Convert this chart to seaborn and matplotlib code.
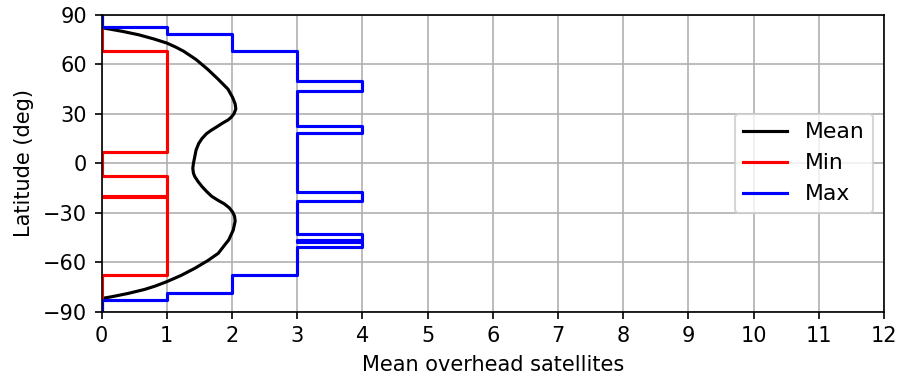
import matplotlib
matplotlib.use("Agg")
import matplotlib.pyplot as plt
import pandas as pd
import seaborn as sns

# Mean curve (latitude in deg, mean overhead satellites)
mean_lat = [82.3, 81.5, 80.0, 78.0, 75.5, 73.0, 70.5, 68.0, 63.0, 57.0, 51.0, 45.0,
            40.0, 36.0, 33.0, 30.0, 28.0, 26.3, 24.5, 22.2, 20.0, 18.0, 15.0, 12.0,
            8.0, 4.0, 0.0, -3.0, -6.0, -8.0, -11.0, -14.0, -17.0, -20.0, -22.5,
            -24.5, -27.0, -29.5, -32.0, -35.0, -40.5, -46.5, -50.0, -54.6, -59.0,
            -63.7, -68.0, -71.8, -74.5, -76.5, -78.9, -80.9, -82.0]
mean_sat = [0.0, 0.12, 0.33, 0.57, 0.80, 1.00, 1.14, 1.26, 1.45, 1.63, 1.79, 1.94,
            2.01, 2.05, 2.06, 2.03, 1.99, 1.94, 1.86, 1.77, 1.68, 1.61, 1.54, 1.49,
            1.45, 1.43, 1.41, 1.40, 1.41, 1.43, 1.48, 1.54, 1.61, 1.69, 1.79,
            1.88, 1.96, 2.01, 2.04, 2.05, 2.02, 1.95, 1.88, 1.79, 1.63,
            1.43, 1.22, 1.00, 0.82, 0.66, 0.41, 0.16, 0.0]

# Min: latitude band edges (north to south) and value in each band
min_edges = [90.0, 67.9, 6.8, -7.4, -19.6, -20.3, -67.8, -90.0]
min_vals = [0, 1, 0, 1, 0, 1, 0]

# Max: latitude band edges (north to south) and value in each band
max_edges = [90.0, 82.8, 78.5, 67.9, 50.1, 43.9, 22.6, 18.2, -17.6, -22.9,
             -42.9, -46.3, -47.5, -50.8, -67.8, -78.5, -82.6, -90.0]
max_vals = [0, 1, 2, 3, 4, 3, 4, 3, 4, 3, 4, 3, 4, 3, 2, 1, 0]

series_names = ["Mean", "Min", "Max"]
series_colors = ["black", "red", "blue"]


def step_path(edges, vals):
    lat, sat = [], []
    for i, v in enumerate(vals):
        lat += [edges[i], edges[i + 1]]
        sat += [v, v]
    return lat, sat


min_lat, min_sat = step_path(min_edges, min_vals)
max_lat, max_sat = step_path(max_edges, max_vals)

frames = []
for name, lat, sat in [("Mean", mean_lat, mean_sat),
                       ("Min", min_lat, min_sat),
                       ("Max", max_lat, max_sat)]:
    frames.append(pd.DataFrame({"lat": lat, "sat": sat, "series": name}))
df = pd.concat(frames, ignore_index=True)

fig = plt.figure(figsize=(902 / 150, 381 / 150), dpi=150)
ax = fig.add_axes([101.5 / 902, 1 - 311.7 / 381, (884 - 101.5) / 902, (311.7 - 15) / 381])

for name, color in zip(series_names, series_colors):
    sub = df[df["series"] == name]
    sns.lineplot(data=sub, x="sat", y="lat", sort=False, estimator=None,
                 color=color, linewidth=1.5, ax=ax, label=name)

ax.set_xlim(0, 12)
ax.set_ylim(-90, 90)
ax.set_xticks(range(0, 13))
ax.set_yticks(range(-90, 91, 30))
ax.grid(True, color="#b0b0b0", linewidth=0.8)
ax.set_axisbelow(True)
ax.set_xlabel("Mean overhead satellites")
ax.set_ylabel("Latitude (deg)")
ax.legend(loc="center right", fontsize=10.5)

fig.savefig("out.png", dpi=150)
